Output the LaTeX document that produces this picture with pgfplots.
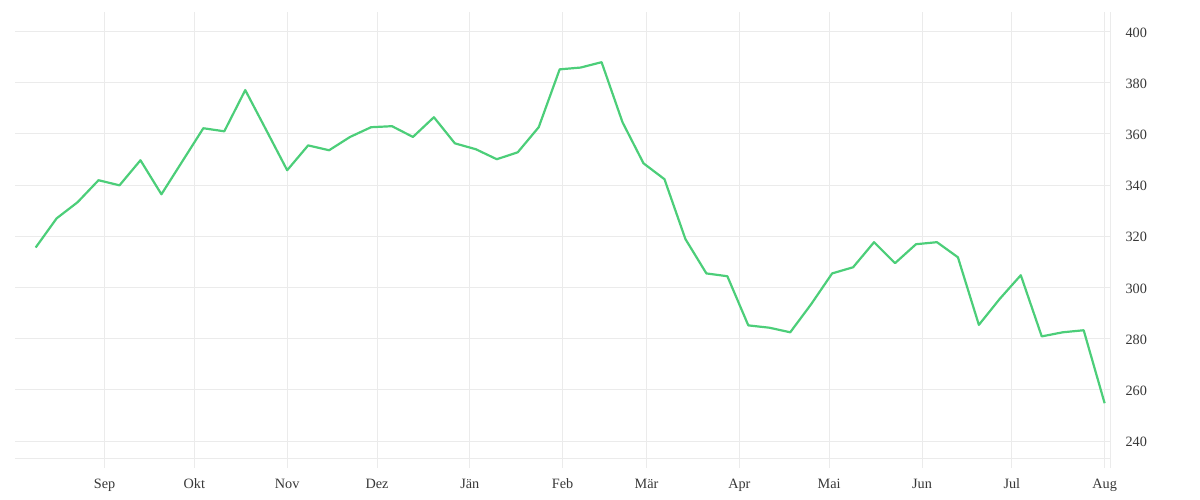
\documentclass[border=0pt]{standalone}
\usepackage{fontspec}
\setmainfont{Liberation Serif}
\usepackage{pgfplots}
\pgfplotsset{compat=1.18}
\definecolor{gridc}{RGB}{235,235,235}
\definecolor{linec}{RGB}{76,206,121}
\definecolor{labc}{RGB}{55,55,55}
\begin{document}
\begin{tikzpicture}
\begin{axis}[
  scale only axis,
  width=1095bp, height=456bp,
  xmin=-29.9, xmax=335.8,
  ymin=229.5, ymax=407.6,
  axis line style={draw=none},
  major tick length=0pt,
  tick style={draw=none},
  grid=major,
  grid style={gridc, line width=0.9bp},
  xtick={0,30,61,91,122,153,181,212,242,273,303,334},
  xticklabels={Sep,Okt,Nov,Dez,Jän,Feb,Mär,Apr,Mai,Jun,Jul,Aug},
  ytick={240,260,280,300,320,340,360,380,400},
  extra y ticks={233.4},
  extra y tick labels={},
  extra y tick style={grid=major},
  yticklabel pos=right,
  /pgf/number format/assume math mode=true,
  tick label style={font=\fontsize{14.3}{16}\selectfont, text=labc},
  xticklabel style={anchor=base, yshift=-20bp},
  yticklabel style={xshift=12bp, anchor=west, yshift=-1bp},
  clip=false,
]
\draw[gridc, line width=0.9bp] (rel axis cs:1,0) -- (rel axis cs:1,1);
\addplot[linec, line width=2.2bp, line join=round, mark=none] coordinates {
(-23,315.6) (-16,327.0) (-9,333.3) (-2,341.9) (5,339.9) (12,349.7) (19,336.4) (26,349.3)
(33,362.2) (40,361.0) (47,377.1) (54,361.5) (61,345.8) (68,355.5) (75,353.6) (82,358.8)
(89,362.6) (96,363.0) (103,358.8) (110,366.5) (117,356.3) (124,354.0) (131,350.1) (138,352.8)
(145,362.6) (152,385.2) (159,385.9) (166,388.0) (173,364.5) (180,348.5) (187,342.3) (194,318.9)
(201,305.5) (208,304.4) (215,285.2) (222,284.3) (229,282.5) (236,293.5) (243,305.5) (250,307.9)
(257,317.7) (264,309.5) (271,316.9) (278,317.7) (285,311.8) (292,285.4) (299,295.6) (306,304.8)
(313,280.9) (320,282.5) (327,283.3) (334,254.8)
};
\end{axis}
\path[use as bounding box] (-15bp,-32bp) rectangle (1185bp,468bp);
\end{tikzpicture}
\end{document}
